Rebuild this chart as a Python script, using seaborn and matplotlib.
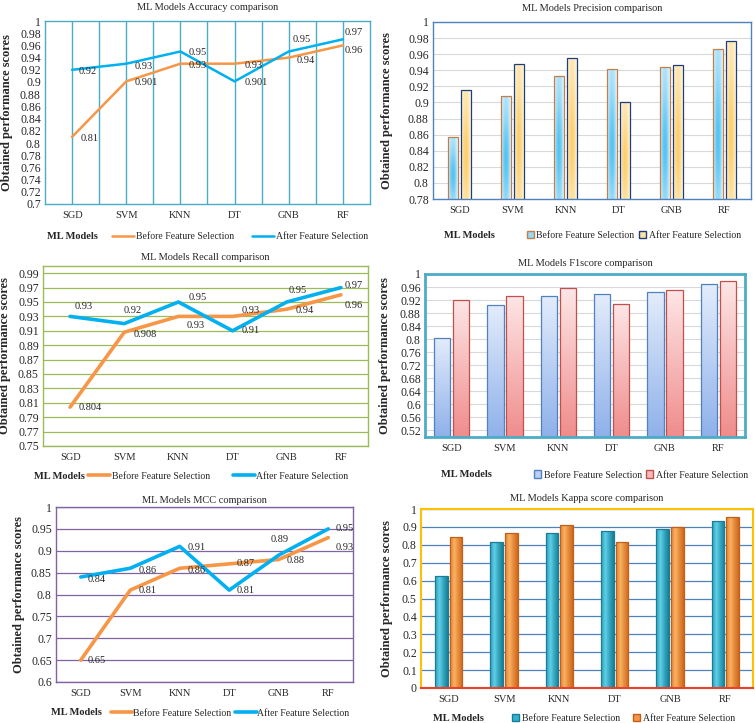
import numpy as np
import pandas as pd
import seaborn as sns
import matplotlib.pyplot as plt
from matplotlib.colors import to_rgb
from matplotlib.lines import Line2D
from matplotlib.patches import Patch
from matplotlib.ticker import FuncFormatter, MultipleLocator

# data
models = ["SGD", "SVM", "KNN", "DT", "GNB", "RF"]
phases = ["Before Feature Selection", "After Feature Selection"]

acc_before = [0.81, 0.901, 0.93, 0.93, 0.94, 0.96]
acc_after = [0.92, 0.93, 0.95, 0.901, 0.95, 0.97]

prec_before = [0.857, 0.908, 0.933, 0.941, 0.944, 0.967]
prec_after = [0.916, 0.948, 0.955, 0.901, 0.947, 0.976]

rec_before = [0.804, 0.908, 0.93, 0.93, 0.94, 0.96]
rec_after = [0.93, 0.92, 0.95, 0.91, 0.95, 0.97]

f1_before = [0.805, 0.905, 0.934, 0.940, 0.944, 0.968]
f1_after = [0.921, 0.934, 0.957, 0.908, 0.950, 0.980]

mcc_before = [0.65, 0.81, 0.86, 0.87, 0.88, 0.93]
mcc_after = [0.84, 0.86, 0.91, 0.81, 0.89, 0.95]

kappa_before = [0.625, 0.815, 0.868, 0.878, 0.890, 0.935]
kappa_after = [0.845, 0.868, 0.912, 0.813, 0.900, 0.957]

ORANGE = "#F79646"
BLUE = "#00B0F0"
FS = 7.5

sns.set_style("white")
plt.rcParams['font.family'] = ['Liberation Serif', 'DejaVu Serif']
plt.rcParams['font.size'] = FS


def long_df(before, after):
    return pd.DataFrame({
        "Model": models * 2,
        "Score": before + after,
        "Phase": [phases[0]] * len(models) + [phases[1]] * len(models),
    })


fmt = FuncFormatter(lambda v, p: f"{round(v, 4):g}")


def common(ax, title, pad, ylo, yhi, step, border, lw, ylab_x):
    ax.set_title(title, fontsize=FS, pad=pad)
    ax.set_ylim(ylo, yhi)
    ax.set_xlim(-0.5, 5.5)
    ax.yaxis.set_major_locator(MultipleLocator(step))
    ax.yaxis.set_major_formatter(fmt)
    ax.tick_params(length=0, pad=3)
    ax.tick_params(axis="y", labelsize=8.5)
    ax.tick_params(axis="x", labelsize=7.5, pad=5)
    ax.set_xlabel("")
    ax.set_ylabel("Obtained performance scores", fontweight="bold", fontsize=9)
    ax.yaxis.set_label_coords(ylab_x, 0.5)
    for s in ax.spines.values():
        s.set_color(border)
        s.set_linewidth(lw)
        s.set_visible(True)
    ax.set_axisbelow(True)


def footer(ax, mx, my, handles, lx, ly, hl=2.3, cs=1.5, tp=0.2):
    ax.text(mx, my, "ML Models", transform=ax.transAxes, ha="center", va="center",
            fontweight="bold", fontsize=FS)
    ax.legend(handles, phases, loc="center", bbox_to_anchor=(lx, ly), ncol=2,
              frameon=False, fontsize=7, handlelength=hl, handletextpad=tp,
              columnspacing=cs, borderaxespad=0, borderpad=0, handleheight=0.8)


def line_panel(ax, before, after, lw, offs_b, offs_a):
    df = long_df(before, after)
    sns.lineplot(data=df, x="Model", y="Score", hue="Phase", sort=False,
                 palette=[ORANGE, BLUE], linewidth=lw, legend=False, ax=ax)
    for vals, offs in ((before, offs_b), (after, offs_a)):
        for i, (v, o) in enumerate(zip(vals, offs)):
            ax.annotate(f"{v:g}", (i, v), xytext=o, textcoords="offset points",
                        ha="left", va="center", fontsize=FS, color="#262626")
    return [Line2D([], [], color=ORANGE, lw=lw), Line2D([], [], color=BLUE, lw=lw)]


def gradient_bars(ax, bars, painter):
    ylo = ax.get_ylim()[0]
    for bar in bars:
        x0, y0 = bar.get_x(), bar.get_y()
        w, h = bar.get_width(), bar.get_height()
        yb = max(y0, ylo)
        img = ax.imshow(painter(), extent=[x0, x0 + w, yb, y0 + h], aspect="auto",
                        origin="lower", zorder=1.5, interpolation="bilinear")
        img.set_clip_path(bar)
        bar.set_facecolor("none")
        bar.set_zorder(2)


def blend(light, dark, w):
    l = np.array(to_rgb(light))
    d = np.array(to_rgb(dark))
    return l * (1 - w[..., None]) + d * w[..., None]


def radial(light, dark):
    def paint():
        u = np.linspace(0, 1, 40)[None, :]
        v = np.linspace(0, 1, 80)[:, None]
        hcyl = 1 - np.abs(2 * u - 1) ** 2
        w = hcyl * (0.35 + 0.65 * np.exp(-((v - 0.4) / 0.4) ** 2))
        return np.clip(blend(light, dark, w), 0, 1)
    return paint


def vertical(light, dark):
    def paint():
        u = np.linspace(0, 1, 10)[None, :]
        v = np.linspace(0, 1, 80)[:, None]
        w = (1 - v) * np.ones_like(u)
        return np.clip(blend(light, dark, w), 0, 1)
    return paint


def cylinder(light, dark):
    def paint():
        u = np.linspace(0, 1, 40)[None, :]
        v = np.linspace(0, 1, 20)[:, None]
        w = (np.abs(u - 0.35) / 0.65) ** 0.8 * np.ones_like(v)
        return np.clip(blend(light, dark, w), 0, 1)
    return paint


def bar_panel(ax, before, after, width, gap, edges, painters):
    df = long_df(before, after)
    sns.barplot(data=df, x="Model", y="Score", hue="Phase", width=width, gap=gap,
                palette=["#cccccc", "#cccccc"], saturation=1, legend=False, ax=ax)
    for cont, ec, paint in zip(ax.containers, edges, painters):
        for bar in cont:
            bar.set_edgecolor(ec)
            bar.set_linewidth(0.9)
        gradient_bars(ax, cont, paint)


fig = plt.figure(figsize=(7.55, 7.23), dpi=100)
W, H = 755, 723


def add_ax(l, t, r, b):
    return fig.add_axes([l / W, 1 - b / H, (r - l) / W, (b - t) / H])


# ---- Accuracy (lines)
ax1 = add_ax(45, 21, 370, 204)
h = line_panel(ax1, acc_before, acc_after, 1.8,
               [(6, -1), (6, -1), (6, -1), (7, -1), (6, -2), (1.5, -4)],
               [(5, -1), (6, -2), (6, -1), (7, -1), (3, 9), (1.5, 5)])
common(ax1, "ML Models Accuracy comparison", 8, 0.7, 1.0, 0.02, "#4BACC6", 1.0, -0.098)
ax1.set_xticks(np.arange(0.5, 5, 1), minor=True)
ax1.grid(axis="x", which="both", color="#4BACC6", lw=1.0)
ax1.grid(axis="y", visible=False)
footer(ax1, 0.083, -0.18, h, 0.60, -0.18, hl=2.3, cs=1.75)

# ---- Precision (bars)
ax2 = add_ax(433, 22, 751, 199)
ax2.set_ylim(0.78, 1.0)
bar_panel(ax2, prec_before, prec_after, 0.47, 0.2, ["#C0804D", "#1F3D7A"],
          [radial("#eef8fe", "#55c3f2"), radial("#fff8e6", "#fccf6e")])
common(ax2, "ML Models Precision comparison", 8, 0.78, 1.0, 0.02, "#4F81BD", 1.0, -0.126)
ax2.grid(axis="y", color="#d9d9d9", lw=0.8)
footer(ax2, 0.116, -0.205,
       [Patch(facecolor="#9ad8f6", edgecolor="#C0804D"), Patch(facecolor="#fde3a4", edgecolor="#1F3D7A")],
       0.632, -0.205, hl=0.7, cs=0.5, tp=0.3)

# ---- Recall (lines)
ax3 = add_ax(43, 266, 368, 446)
h = line_panel(ax3, rec_before, rec_after, 2.6,
               [(6.5, -0.5), (6.5, -1.5), (6, -6.5), (6.5, 4.5), (6.5, -1), (3, -8)],
               [(3, 7), (-0.5, 9.5), (7, 3.5), (6.5, 0), (1.5, 8.5), (3, 1.5)])
common(ax3, "ML Models Recall comparison", 4, 0.75, 1.0, 0.02, "#9BBB59", 1.0, -0.098)
ax3.set_yticks(np.arange(0.75, 1.0, 0.02))
ax3.grid(axis="y", color="#9BBB59", lw=0.9)
ax3.set_xticks(np.arange(-0.5, 6, 1), minor=True)
ax3.tick_params(axis="x", which="minor", length=3, color="#9BBB59", direction="out")
footer(ax3, 0.05, -0.167, h, 0.54, -0.167, hl=2.2, cs=2.4)

# ---- F1 (bars)
ax4 = add_ax(425, 274, 745, 437)
ax4.set_ylim(0.5, 1.0)
bar_panel(ax4, f1_before, f1_after, 0.72, 0.15, ["#4F81BD", "#C0504D"],
          [vertical("#e3ecfb", "#8fb1ea"), vertical("#fde6e6", "#f08c8c")])
common(ax4, "ML Models F1score comparison", 6, 0.5, 1.0, 0.04, "#4BACC6", 2.0, -0.106)
ax4.grid(axis="y", color="#d9d9d9", lw=0.8)
footer(ax4, 0.128, -0.233,
       [Patch(facecolor="#bcd0f4", edgecolor="#4F81BD"), Patch(facecolor="#f7b9b9", edgecolor="#C0504D")],
       0.675, -0.233, hl=0.7, cs=0.4, tp=0.3)

# ---- MCC (lines)
ax5 = add_ax(56, 507, 353, 682)
h = line_panel(ax5, mcc_before, mcc_after, 2.6,
               [(5, 0), (6, 0), (6, -1.5), (5, 0), (6, -1), (5, -7)],
               [(5, -1.5), (6, -1.5), (6, -1), (5, 0), (-6, 11), (5, 0)])
common(ax5, "ML Models MCC comparison", 3, 0.6, 1.0, 0.05, "#8064A2", 1.0, -0.104)
ax5.grid(axis="y", color="#8064A2", lw=0.9)
footer(ax5, 0.07, -0.177, h, 0.586, -0.177, hl=2.3, cs=0.3, tp=0.05)

# ---- Kappa (bars)
ax6 = add_ax(421, 509, 753, 688)
ax6.set_ylim(0, 1.0)
bar_panel(ax6, kappa_before, kappa_after, 0.52, 0.12, ["#1a7d95", "#c0601a"],
          [cylinder("#62d3ec", "#15809a"), cylinder("#fdb565", "#d0681c")])
common(ax6, "ML Models Kappa score comparison", 6, 0.0, 1.0, 0.1, "#FFC000", 1.5, -0.084)
ax6.spines["bottom"].set_color("#E8402A")
ax6.grid(axis="y", color="#4F81BD", lw=0.9)
footer(ax6, 0.114, -0.168,
       [Patch(facecolor="#2fb3d0", edgecolor="#1a7d95"), Patch(facecolor="#f79646", edgecolor="#c0601a")],
       0.61, -0.168, hl=0.7, cs=1.4, tp=0.3)

fig.savefig("out.png", dpi=100)
